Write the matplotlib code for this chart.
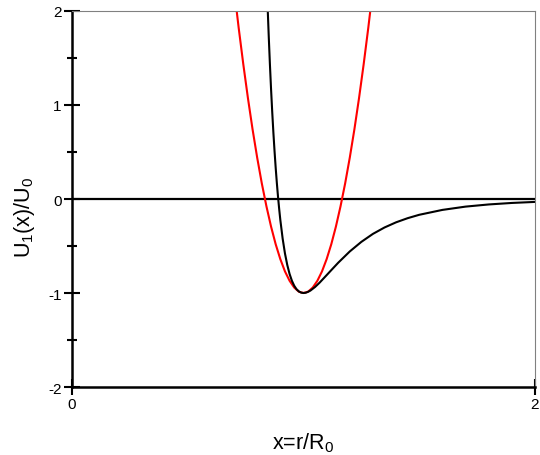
import matplotlib
matplotlib.use('Agg')
import matplotlib.pyplot as plt

plt.rcParams['font.family'] = ['Liberation Sans', 'DejaVu Sans']
plt.rcParams['mathtext.fontset'] = 'custom'
plt.rcParams['mathtext.rm'] = 'Liberation Sans'
plt.rcParams['mathtext.it'] = 'Liberation Sans:italic'
plt.rcParams['axes.unicode_minus'] = False

# black curve
x_pot = [0.845, 0.85, 0.855, 0.86, 0.865, 0.87, 0.875, 0.88, 0.885, 0.89, 0.895,
         0.90, 0.91, 0.92, 0.93, 0.94, 0.95, 0.96, 0.97, 0.98, 0.99, 1.00,
         1.01, 1.02, 1.03, 1.05, 1.07, 1.10, 1.12, 1.15, 1.20, 1.25, 1.30,
         1.35, 1.40, 1.45, 1.50, 1.60, 1.70, 1.80, 1.90, 2.00]
u_pot = [2.05, 1.727, 1.433, 1.166, 0.925, 0.706, 0.509, 0.330, 0.169, 0.024, -0.106,
         -0.223, -0.421, -0.579, -0.702, -0.798, -0.870, -0.923, -0.960, -0.983, -0.996, -1.0,
         -0.997, -0.987, -0.974, -0.936, -0.889, -0.810, -0.757, -0.678, -0.558, -0.456, -0.371,
         -0.303, -0.248, -0.204, -0.168, -0.116, -0.081, -0.058, -0.042, -0.031]

# red curve
x_harm = [0.70, 0.72, 0.74, 0.76, 0.78, 0.80, 0.82, 0.84, 0.86, 0.88, 0.90, 0.92, 0.94,
          0.96, 0.98, 1.00, 1.02, 1.04, 1.06, 1.08, 1.10, 1.12, 1.14, 1.16, 1.18, 1.20,
          1.22, 1.24, 1.26, 1.28, 1.30]
u_harm = [2.24, 1.822, 1.434, 1.074, 0.742, 0.44, 0.166, -0.078, -0.294, -0.482, -0.64, -0.770, -0.870,
          -0.942, -0.986, -1.0, -0.986, -0.942, -0.870, -0.770, -0.64, -0.482, -0.294, -0.078, 0.166, 0.44,
          0.742, 1.074, 1.434, 1.822, 2.24]

fig = plt.figure(figsize=(5.4, 4.56), dpi=100)
ax = fig.add_axes([0.1333, 0.1491, 0.8574, 0.8246])

ax.axhline(0, color='black', lw=1.6)
ax.plot(x_harm, u_harm, color='red', lw=1.5)
ax.plot(x_pot, u_pot, color='black', lw=1.5)

ax.set_xlim(0, 2)
ax.set_ylim(-2, 2)
ax.set_xticks([0, 2])
ax.set_yticks([-2, -1, 0, 1, 2])
ax.set_yticks([-1.5, -0.5, 0.5, 1.5], minor=True)
ax.tick_params(axis='both', which='major', direction='inout', length=11, width=1.5, labelsize=11, pad=2)
ax.tick_params(axis='both', which='minor', direction='inout', length=7, width=1.5)

for s in ['left', 'bottom']:
    ax.spines[s].set_linewidth(1.8)
for s in ['top', 'right']:
    ax.spines[s].set_linewidth(0.8)
    ax.spines[s].set_color('gray')

ax.set_xlabel(r'x=r/R$_0$', fontsize=15.5, labelpad=14)
ax.set_ylabel(r'U$_1$(x)/U$_0$', fontsize=15.5)
ax.yaxis.set_label_coords(-0.075, 0.455)

fig.savefig('out.png', dpi=100)
